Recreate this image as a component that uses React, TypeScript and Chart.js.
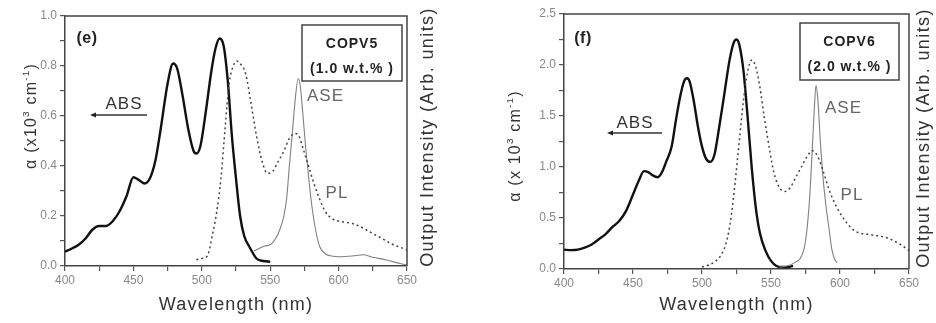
import React, { useEffect, useRef } from "react";
import { Chart, registerables } from "chart.js";

Chart.register(...registerables);

// ---------------- data ----------------
// Panel (e) COPV5 1.0 wt%
const E_ABS_NM = [400, 405, 410, 415, 420, 425, 430, 435, 440, 445, 450, 455, 458, 462, 466, 470, 475, 479, 482, 486, 490, 494, 496, 499, 503, 507, 510, 513, 516, 519, 522, 525, 528, 531, 535, 540, 545, 550];
const E_ABS = [0.057, 0.07, 0.085, 0.11, 0.145, 0.16, 0.16, 0.18, 0.22, 0.28, 0.355, 0.34, 0.33, 0.35, 0.42, 0.55, 0.73, 0.81, 0.79, 0.68, 0.55, 0.46, 0.45, 0.48, 0.62, 0.78, 0.87, 0.91, 0.88, 0.74, 0.52, 0.35, 0.2, 0.12, 0.075, 0.03, 0.02, 0.017];
const E_PL_NM = [496, 500, 504, 508, 511, 514, 517, 520, 523, 525.5, 528, 532, 536, 540, 544, 548, 552, 556, 560, 564, 568, 571, 574, 578, 582, 586, 590, 595, 600, 605, 610, 615, 620, 625, 630, 635, 640, 645, 650];
const E_PL = [0.025, 0.03, 0.04, 0.13, 0.22, 0.35, 0.55, 0.73, 0.8, 0.82, 0.81, 0.77, 0.65, 0.52, 0.42, 0.37, 0.38, 0.42, 0.46, 0.51, 0.53, 0.52, 0.47, 0.4, 0.33, 0.27, 0.22, 0.19, 0.18, 0.175, 0.17, 0.16, 0.145, 0.13, 0.115, 0.1, 0.085, 0.075, 0.064];
const E_ASE_NM = [538, 542, 546, 550, 554, 557, 560, 562, 564, 566, 568, 570.5, 572, 574, 576, 578, 580, 583, 586, 590, 595, 600, 610, 618, 625, 635, 645, 650];
const E_ASE = [0.06, 0.07, 0.08, 0.085, 0.11, 0.145, 0.2, 0.27, 0.4, 0.52, 0.65, 0.75, 0.72, 0.6, 0.47, 0.36, 0.26, 0.15, 0.08, 0.05, 0.04, 0.037, 0.04, 0.045, 0.035, 0.024, 0.01, 0.004];

// Panel (f) COPV6 2.0 wt%
const F_ABS_NM = [400, 405, 410, 415, 420, 425, 430, 435, 440, 445, 450, 454, 458, 461, 464, 468, 471, 474, 478, 481, 484, 487, 489, 491, 494, 497, 500, 503, 506, 509, 512, 516, 520, 523, 525, 527, 530, 533, 536, 539, 542, 546, 550, 554, 558, 562, 566];
const F_ABS = [0.19, 0.185, 0.19, 0.21, 0.24, 0.29, 0.34, 0.41, 0.47, 0.57, 0.73, 0.86, 0.96, 0.95, 0.92, 0.9, 0.95, 1.05, 1.2, 1.45, 1.68, 1.84, 1.87, 1.84, 1.65, 1.4, 1.2, 1.08, 1.05, 1.12, 1.35, 1.7, 2.05, 2.22, 2.25, 2.2, 1.95, 1.5, 1.0, 0.6, 0.35, 0.18, 0.08, 0.03, 0.02, 0.02, 0.03];
const F_PL_NM = [500, 505, 510, 514, 518, 521, 524, 527, 530, 533, 536, 539, 542, 545, 549, 552, 556, 560, 564, 568, 572, 576, 580, 584, 588, 592, 596, 600, 605, 610, 615, 620, 625, 630, 635, 640, 645, 650];
const F_PL = [0.02, 0.04, 0.08, 0.14, 0.28, 0.5, 0.85, 1.25, 1.65, 1.93, 2.05, 1.98, 1.78, 1.5, 1.17, 0.95, 0.8, 0.76, 0.8, 0.9, 1.0, 1.1, 1.16, 1.1, 0.95, 0.78, 0.65, 0.55, 0.45, 0.38, 0.35, 0.34, 0.33, 0.32, 0.3, 0.27, 0.23, 0.18];
const F_ASE_NM = [556, 560, 564, 568, 571, 574, 576, 578, 580, 581.5, 582.6, 584, 586, 588, 590, 592, 594, 596, 598];
const F_ASE = [0.02, 0.025, 0.04, 0.07, 0.1, 0.2, 0.38, 0.7, 1.2, 1.6, 1.8, 1.65, 1.2, 0.85, 0.6, 0.4, 0.2, 0.1, 0.06];

const X_MIN = 400;
const X_MAX = 650;
const X_LABEL_STEP = 50;
const E_Y_MAX = 1.0;
const F_Y_MAX = 2.5;

// ---------------- helpers ----------------
const FONT = "'Liberation Sans', Arial, Helvetica, sans-serif";

function zip(xs: number[], ys: number[]) {
  return xs.map((x, i) => ({ x, y: ys[i] }));
}

function setFont(ctx: CanvasRenderingContext2D, size: number, bold = false) {
  ctx.font = `${bold ? "bold " : ""}${size}px ${FONT}`;
}

type Part = { t: string; sup?: boolean };

function drawRich(
  ctx: CanvasRenderingContext2D,
  parts: Part[],
  cx: number,
  cy: number,
  rot: number,
  size: number,
  color: string,
  spacing: number,
  bold = false
) {
  ctx.save();
  ctx.translate(cx, cy);
  ctx.rotate(rot);
  ctx.fillStyle = color;
  ctx.textAlign = "left";
  ctx.textBaseline = "alphabetic";
  (ctx as any).letterSpacing = spacing + "px";
  let total = 0;
  const widths = parts.map((p) => {
    setFont(ctx, p.sup ? size * 0.62 : size, bold);
    const w = ctx.measureText(p.t).width;
    total += w;
    return w;
  });
  let x = -total / 2;
  const base = size * 0.36;
  parts.forEach((p, i) => {
    setFont(ctx, p.sup ? size * 0.62 : size, bold);
    ctx.fillText(p.t, x, p.sup ? base - size * 0.42 : base);
    x += widths[i];
  });
  ctx.restore();
}

type PanelSpec = {
  absNm: number[];
  abs: number[];
  plNm: number[];
  pl: number[];
  aseNm: number[];
  ase: number[];
  yMax: number;
  yStep: number;
  labelEvery: number;
  yW: number;
  xH: number;
  padTop: number;
  padRight: number;
  yTitle: Part[];
  yTitleX: number;
  yTitleY: number;
  outX: number;
  outY: number;
  tag: string;
  tagXY: [number, number];
  absXY: [number, number];
  arrow: [number, number, number];
  box: [number, number, number, number];
  boxLines: string[];
  aseXY: [number, number];
  plXY: [number, number];
};

function annotationPlugin(p: PanelSpec) {
  return {
    id: "annot",
    afterDraw(chart: any) {
      const ctx: CanvasRenderingContext2D = chart.ctx;
      const a = chart.chartArea;
      ctx.save();
      // frame top + right
      ctx.strokeStyle = "#444";
      ctx.lineWidth = 1.5;
      ctx.beginPath();
      ctx.moveTo(a.left, a.top);
      ctx.lineTo(a.right, a.top);
      ctx.lineTo(a.right, a.bottom);
      ctx.stroke();

      // axis titles
      drawRich(ctx, [{ t: "Wavelength (nm)" }], (a.left + a.right) / 2, 304, 0, 18, "#333", 1.2);
      drawRich(ctx, p.yTitle, p.yTitleX, p.yTitleY, -Math.PI / 2, 16, "#333", 1.2);
      drawRich(ctx, [{ t: "Output Intensity (Arb. units)" }], p.outX, p.outY, -Math.PI / 2, 18, "#333", 1.4);

      // panel tag
      drawRich(ctx, [{ t: p.tag }], p.tagXY[0], p.tagXY[1], 0, 16, "#222", 0.5, true);

      // ABS + arrow
      drawRich(ctx, [{ t: "ABS" }], p.absXY[0], p.absXY[1], 0, 17, "#333", 1);
      const [x1, x2, ay] = p.arrow;
      ctx.strokeStyle = "#333";
      ctx.lineWidth = 1.5;
      ctx.beginPath();
      ctx.moveTo(x1 + 4, ay);
      ctx.lineTo(x2, ay);
      ctx.stroke();
      ctx.fillStyle = "#222";
      ctx.beginPath();
      ctx.moveTo(x1, ay);
      ctx.lineTo(x1 + 6, ay - 2.5);
      ctx.lineTo(x1 + 6, ay + 2.5);
      ctx.closePath();
      ctx.fill();

      // box
      const [bx1, by1, bx2, by2] = p.box;
      ctx.strokeStyle = "#444";
      ctx.lineWidth = 1.5;
      ctx.strokeRect(bx1, by1, bx2 - bx1, by2 - by1);
      const bcx = (bx1 + bx2) / 2;
      drawRich(ctx, [{ t: p.boxLines[0] }], bcx, by1 + 18, 0, 14, "#222", 1, true);
      drawRich(ctx, [{ t: p.boxLines[1] }], bcx, by1 + 43, 0, 14, "#222", 1, true);

      // ASE, PL labels
      ctx.save();
      (ctx as any).letterSpacing = "1px";
      setFont(ctx, 17);
      ctx.fillStyle = "#666";
      ctx.textAlign = "left";
      ctx.textBaseline = "middle";
      ctx.fillText("ASE", p.aseXY[0], p.aseXY[1]);
      ctx.textAlign = "center";
      ctx.fillText("PL", p.plXY[0], p.plXY[1]);
      ctx.restore();

      ctx.restore();
    },
  };
}

function buildConfig(p: PanelSpec): any {
  const common = {
    pointRadius: 0,
    pointHoverRadius: 0,
    fill: false,
    cubicInterpolationMode: "monotone",
  };
  return {
    type: "line",
    data: {
      datasets: [
        { label: "PL", data: zip(p.plNm, p.pl), borderColor: "#444", borderWidth: 1.5, borderDash: [2, 3], ...common },
        { label: "ASE", data: zip(p.aseNm, p.ase), borderColor: "#808080", borderWidth: 1.1, ...common },
        { label: "ABS", data: zip(p.absNm, p.abs), borderColor: "#111", borderWidth: 2.4, ...common },
      ],
    },
    options: {
      responsive: false,
      animation: false,
      layout: { padding: { left: 0, right: p.padRight, top: p.padTop, bottom: 0 } },
      plugins: { legend: { display: false }, tooltip: { enabled: false } },
      scales: {
        x: {
          type: "linear",
          min: X_MIN,
          max: X_MAX,
          ticks: {
            stepSize: X_LABEL_STEP / 2,
            autoSkip: false,
            maxRotation: 0,
            padding: 2,
            color: "#888",
            font: { size: 12, family: FONT },
            callback: (v: number) => (Math.round(v) % X_LABEL_STEP === 0 ? String(Math.round(v)) : ""),
          },
          grid: { drawOnChartArea: false, drawTicks: true, tickLength: 5, color: "#555", lineWidth: 1.2 },
          border: { color: "#444", width: 1.5 },
          afterFit: (s: any) => {
            s.height = p.xH;
          },
        },
        y: {
          type: "linear",
          min: 0,
          max: p.yMax,
          ticks: {
            stepSize: p.yStep,
            autoSkip: false,
            padding: 3,
            color: "#888",
            font: { size: 12, family: FONT },
            callback: (v: number) => {
              const k = Math.round(v / p.yStep);
              return k % p.labelEvery === 0 ? v.toFixed(1) : "";
            },
          },
          grid: { drawOnChartArea: false, drawTicks: true, tickLength: 5, color: "#555", lineWidth: 1.2 },
          border: { color: "#444", width: 1.5 },
          afterFit: (s: any) => {
            s.width = p.yW;
          },
        },
      },
    },
    plugins: [annotationPlugin(p)],
  };
}

const PANEL_E: PanelSpec = {
  absNm: E_ABS_NM,
  abs: E_ABS,
  plNm: E_PL_NM,
  pl: E_PL,
  aseNm: E_ASE_NM,
  ase: E_ASE,
  yMax: E_Y_MAX,
  yStep: 0.1,
  labelEvery: 2,
  yW: 65,
  xH: 57,
  padTop: 16,
  padRight: 61,
  yTitle: [{ t: "α (x10" }, { t: "3", sup: true }, { t: " cm" }, { t: "-1", sup: true }, { t: ")" }],
  yTitleX: 30,
  yTitleY: 116,
  outX: 427,
  outY: 137,
  tag: "(e)",
  tagXY: [87, 37],
  absXY: [124, 103],
  arrow: [90, 147, 115],
  box: [302, 25, 402, 81],
  boxLines: ["COPV5", "(1.0 w.t.% )"],
  aseXY: [307, 96],
  plXY: [337, 193],
};

const PANEL_F: PanelSpec = {
  absNm: F_ABS_NM,
  abs: F_ABS,
  plNm: F_PL_NM,
  pl: F_PL,
  aseNm: F_ASE_NM,
  ase: F_ASE,
  yMax: F_Y_MAX,
  yStep: 0.25,
  labelEvery: 2,
  yW: 96,
  xH: 54,
  padTop: 14,
  padRight: 27,
  yTitle: [{ t: "α (x 10" }, { t: "3", sup: true }, { t: " cm" }, { t: "-1", sup: true }, { t: ")" }],
  yTitleX: 46,
  yTitleY: 146,
  outX: 455,
  outY: 138,
  tag: "(f)",
  tagXY: [115, 37],
  absXY: [167, 122],
  arrow: [139, 194, 133],
  box: [332, 23, 431, 80],
  boxLines: ["COPV6", "(2.0 w.t.% )"],
  aseXY: [357, 108],
  plXY: [384, 195],
};

function Panel({ spec }: { spec: PanelSpec }) {
  const ref = useRef<HTMLCanvasElement>(null);
  useEffect(() => {
    if (!ref.current) return;
    const chart = new Chart(ref.current, buildConfig(spec));
    return () => chart.destroy();
  }, [spec]);
  return <canvas ref={ref} width={468} height={323} style={{ display: "block", width: 468, height: 323 }} />;
}

export default function App() {
  return (
    <div
      style={{
        position: "fixed",
        left: 0,
        top: 0,
        width: 936,
        height: 323,
        display: "flex",
        background: "#fff",
      }}
    >
      <Panel spec={PANEL_E} />
      <Panel spec={PANEL_F} />
    </div>
  );
}
